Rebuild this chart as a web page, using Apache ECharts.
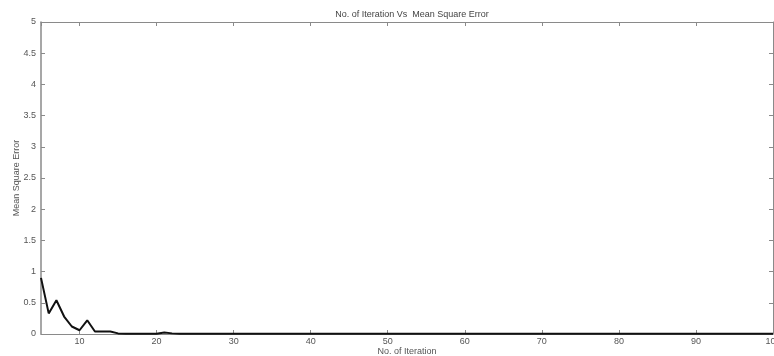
<!DOCTYPE html>
<html>
<head>
<meta charset="utf-8">
<script src="https://cdn.jsdelivr.net/npm/echarts@6/dist/echarts.min.js"></script>
<style>
  html, body { margin: 0; padding: 0; background: #fff; }
  #chart { width: 774px; height: 356px; }
</style>
</head>
<body>
<div id="chart"></div>
<script>
  // iteration number vs mean square error
  var iterations = [5, 6, 7, 8, 9, 10, 11, 12, 13, 14, 15, 16, 17, 18, 19, 20, 21, 22, 23, 30, 40, 50, 60, 70, 80, 90, 100];
  var mse = [0.9, 0.33, 0.54, 0.28, 0.12, 0.06, 0.22, 0.04, 0.04, 0.04, 0.01, 0.005, 0.005, 0.005, 0.005, 0.005, 0.025, 0.01, 0.004, 0.003, 0.003, 0.003, 0.003, 0.003, 0.003, 0.003, 0.003];
  var yTicks = ['0', '0.5', '1', '1.5', '2', '2.5', '3', '3.5', '4', '4.5', '5'];

  var points = [];
  for (var i = 0; i < iterations.length; i++) {
    points.push([iterations[i], mse[i]]);
  }

  var axisGrey = '#8a8a8a';
  var labelStyle = { color: '#555', fontSize: 9, fontFamily: 'Liberation Sans, Arial, sans-serif' };

  var myChart = echarts.init(document.getElementById('chart'));
  myChart.setOption({
    animation: false,
    title: {
      text: 'No. of Iteration Vs  Mean Square Error',
      left: 407, top: 5, textAlign: 'center',
      textStyle: { color: '#444', fontSize: 9, fontWeight: 'normal', fontFamily: 'Liberation Sans, Arial, sans-serif' }
    },
    grid: { left: 41, right: 1, top: 22, bottom: 22, containLabel: false, outerBoundsMode: 'none' },
    xAxis: [
      {
        type: 'value', min: 5, max: 100, splitNumber: 10,
        name: 'No. of Iteration', nameLocation: 'middle', nameGap: 13, nameMoveOverlap: false,
        nameTextStyle: labelStyle,
        axisLine: { show: true, onZero: false, lineStyle: { color: axisGrey, width: 1 } },
        axisTick: { inside: true, length: 4, lineStyle: { color: axisGrey } },
        axisLabel: Object.assign({ margin: 3, showMinLabel: false, formatter: function (v) { return v === 5 ? '' : v; } }, labelStyle),
        splitLine: { show: false }
      },
      {
        type: 'value', min: 5, max: 100, splitNumber: 10, position: 'top',
        axisLine: { show: true, onZero: false, lineStyle: { color: axisGrey, width: 1 } },
        axisTick: { inside: true, length: 4, lineStyle: { color: axisGrey } },
        axisLabel: { show: false },
        splitLine: { show: false }
      }
    ],
    yAxis: [
      {
        type: 'value', min: 0, max: 5, interval: 0.5,
        name: 'Mean Square Error', nameLocation: 'middle', nameGap: 20, nameMoveOverlap: false,
        nameTextStyle: labelStyle,
        axisLine: { show: true, onZero: false, lineStyle: { color: axisGrey, width: 1.5 } },
        axisTick: { inside: true, length: 4, lineStyle: { color: axisGrey } },
        axisLabel: Object.assign({ margin: 5, formatter: function (v) { return yTicks[Math.round(v * 2)]; } }, labelStyle),
        splitLine: { show: false }
      },
      {
        type: 'value', min: 0, max: 5, interval: 0.5, position: 'right',
        axisLine: { show: true, onZero: false, lineStyle: { color: axisGrey, width: 1 } },
        axisTick: { inside: true, length: 4, lineStyle: { color: axisGrey } },
        axisLabel: { show: false },
        splitLine: { show: false }
      }
    ],
    series: [
      {
        type: 'line',
        data: points,
        symbol: 'none',
        lineStyle: { color: '#111', width: 2 }
      }
    ]
  });
</script>
</body>
</html>
